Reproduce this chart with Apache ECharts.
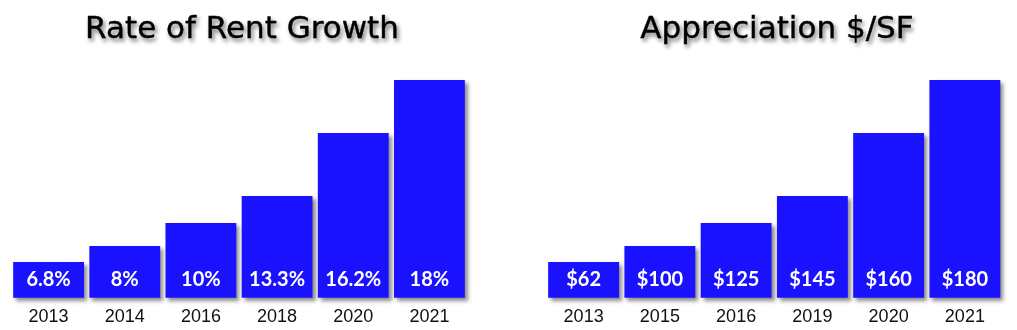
<!DOCTYPE html>
<html>
<head>
<meta charset="utf-8">
<script src="https://cdn.jsdelivr.net/npm/echarts@6/dist/echarts.min.js"></script>
<style>html,body{margin:0;padding:0;background:#fff}#c{width:1017px;height:330px}</style>
</head>
<body>
<div id="c"></div>
<script>
// Left chart
var rentYears = ['2013', '2014', '2016', '2018', '2020', '2021'];
var rentGrowth = [6.8, 8, 10, 13.3, 16.2, 18];          // shown labels (%)
// Right chart
var sfYears = ['2013', '2015', '2016', '2019', '2020', '2021'];
var sfPrice = [62, 100, 125, 145, 160, 180];            // shown labels ($/SF)
// Relative bar heights as drawn in the infographic (tallest = 100)
var barLevel = [16.4, 23.7, 34.3, 46.7, 75.7, 100];

var titles = ['Rate of Rent Growth', 'Appreciation $/SF'];

var chart = echarts.init(document.getElementById('c'));
var titleFont = {fontFamily: 'DejaVu Sans', fontSize: 31, fontWeight: 'normal', color: '#000',
  textBorderColor: '#000', textBorderWidth: 0.4,
  textShadowColor: 'rgba(0,0,0,0.5)', textShadowBlur: 4, textShadowOffsetX: 2, textShadowOffsetY: 3};

function axisX(idx, cats) {
  return {type: 'category', gridIndex: idx, data: cats,
    axisLine: {show: false}, axisTick: {show: false},
    axisLabel: {color: '#111', fontFamily: 'Liberation Sans', fontSize: 18, margin: 10}};
}
function axisY(idx) {
  return {type: 'value', gridIndex: idx, min: 0, max: 100, show: false, splitLine: {show: false}};
}
function barSeries(idx, labels, fmt) {
  return {type: 'bar', xAxisIndex: idx, yAxisIndex: idx, barCategoryGap: '7%',
    data: barLevel.map(function (v) { return v; }),
    itemStyle: {color: '#1a12ff', shadowColor: 'rgba(0,0,0,0.45)', shadowBlur: 4, shadowOffsetX: 3, shadowOffsetY: 3},
    label: {show: true, position: 'insideBottom', distance: 8, color: '#fff',
      fontFamily: 'Lato', fontWeight: 'bold', fontSize: 20,
      formatter: function (p) { return fmt(labels[p.dataIndex]); }}};
}

chart.setOption({
  animation: false,
  title: [
    {text: titles[0], left: 237, top: 9, textAlign: 'center', textStyle: titleFont},
    {text: titles[1], left: 772, top: 9, textAlign: 'center', textStyle: titleFont}
  ],
  grid: [
    {left: 10.5, width: 457, top: 80, bottom: 32.3},
    {left: 545.5, width: 457.5, top: 80, bottom: 32.3}
  ],
  xAxis: [axisX(0, rentYears), axisX(1, sfYears)],
  yAxis: [axisY(0), axisY(1)],
  series: [
    barSeries(0, rentGrowth, function (v) { return v + '%'; }),
    barSeries(1, sfPrice, function (v) { return '$' + v; })
  ]
});
</script>
</body>
</html>
